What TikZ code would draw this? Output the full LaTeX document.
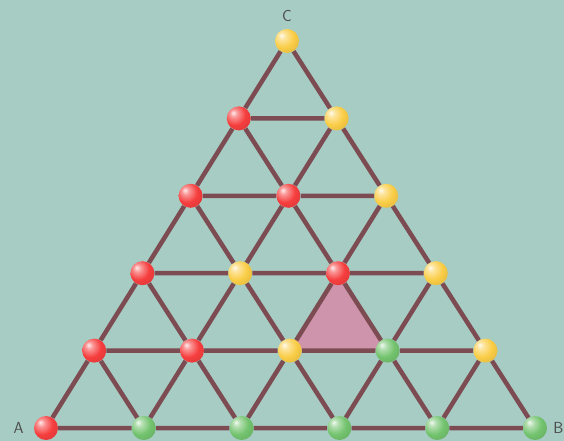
\documentclass[tikz,border=0pt]{standalone}
\usetikzlibrary{positioning,backgrounds}
\definecolor{bgteal}{RGB}{166,204,196}
\definecolor{rodbrown}{RGB}{124,76,82}
\definecolor{pinkfill}{RGB}{206,148,172}
\definecolor{ballred}{RGB}{246,62,62}
\definecolor{ballyellow}{RGB}{250,205,70}
\definecolor{ballgreen}{RGB}{115,195,110}
\makeatletter
\pgfdeclareradialshading[tikz@ball]{glassball}{\pgfqpoint{-12bp}{12bp}}{%
  color(0bp)=(tikz@ball!10!white); color(8bp)=(tikz@ball!55!white);
  color(22bp)=(tikz@ball); color(40bp)=(tikz@ball!88!black);
  color(70bp)=(tikz@ball!70!black)}
\makeatother

\begin{document}
\begin{tikzpicture}[x=1pt,y=-1pt,
  ball/.style={circle,minimum size=24pt,inner sep=0pt,ball color=#1,shading=glassball},
  rod/.style={draw=rodbrown,line width=4.5pt},
  lbl/.style={font=\fontsize{16}{16}\sffamily,text=black!70,inner sep=1pt}]
\useasboundingbox (0,0) rectangle (564,441);
% balls: i runs along AB, j runs up towards C
\foreach \i/\j/\c in {0/0/ballred,1/0/ballgreen,2/0/ballgreen,3/0/ballgreen,4/0/ballgreen,5/0/ballgreen,
    0/1/ballred,1/1/ballred,2/1/ballyellow,3/1/ballgreen,4/1/ballyellow,
    0/2/ballred,1/2/ballyellow,2/2/ballred,3/2/ballyellow,
    0/3/ballred,1/3/ballred,2/3/ballyellow,
    0/4/ballred,1/4/ballyellow,
    0/5/ballyellow}
  \node (n-\i-\j) [ball=\c] at ({46+97.8*\i+48.2*\j},{428-77.4*\j}) {};
% rods of every upward triangle
\foreach \j in {0,...,4}{
  \pgfmathtruncatemacro\imax{4-\j}
  \foreach \i in {0,...,\imax}{
    \pgfmathtruncatemacro\ii{\i+1}
    \pgfmathtruncatemacro\jj{\j+1}
    \draw[rod] (n-\i-\j) -- (n-\ii-\j) (n-\i-\j) -- (n-\i-\jj) (n-\ii-\j) -- (n-\i-\jj);
  }
}
\begin{scope}[on background layer]
\fill[bgteal] (0,0) rectangle (564,441);
\fill[pinkfill] (n-2-2.center) -- (n-2-1.center) -- (n-3-1.center) -- cycle;
\end{scope}
\node (labA) [lbl,left=9pt of n-0-0] {A};
\node (labB) [lbl,right=5pt of n-5-0] {B};
\node (labC) [lbl,above=6pt of n-0-5] {C};
\end{tikzpicture}
\end{document}
